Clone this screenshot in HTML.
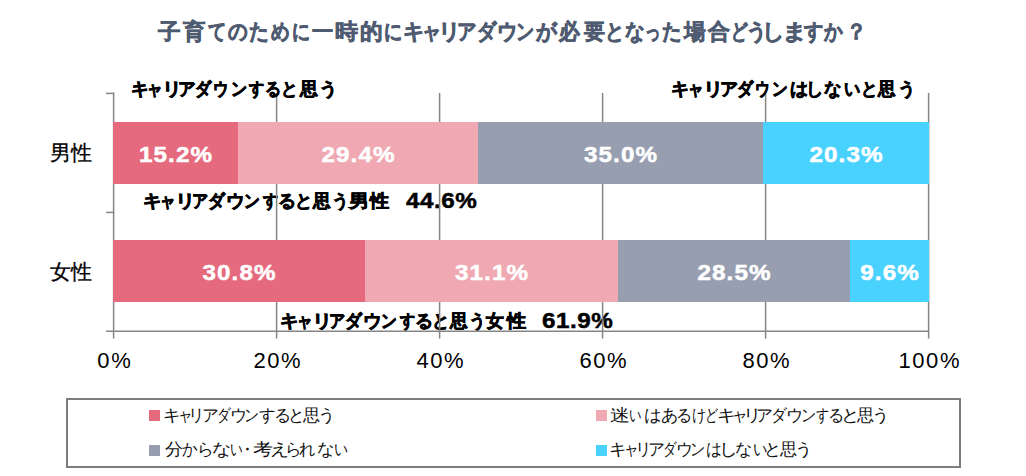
<!DOCTYPE html>
<html><head><meta charset="utf-8">
<style>
html,body{margin:0;padding:0;background:#fff;}
body{width:1026px;height:476px;position:relative;overflow:hidden;font-family:"Liberation Sans",sans-serif;color:#000;}
.a{position:absolute;white-space:nowrap;line-height:1;}
.t{position:absolute;left:0;width:0;height:0;line-height:1;}
.t span{position:absolute;top:0;white-space:nowrap;line-height:1;}
.bar{position:absolute;height:62px;}
.pct{position:absolute;white-space:nowrap;line-height:1;color:#fff;font-weight:bold;font-size:22px;text-indent:1px;letter-spacing:1px;text-align:center;transform:scaleX(1.1);-webkit-text-stroke:0.5px #fff;}
.ax{position:absolute;white-space:nowrap;line-height:1;font-size:22px;letter-spacing:1.6px;text-indent:1.6px;text-align:center;width:100px;}
.num{font-size:22px;font-weight:bold;letter-spacing:0.5px;-webkit-text-stroke:0.5px #000;transform:scaleX(1.1);transform-origin:0 0;}
.sq{position:absolute;width:11px;height:11px;}
</style></head><body>
<div class="t" style="top:21px;font-size:22px;font-weight:bold;color:#4f5b70;-webkit-text-stroke:0.6px #4f5b70;"><span style="left:158.2px;transform:scaleX(1.027);transform-origin:0px 0">子</span><span style="left:183.0px;transform:scaleX(1.018);transform-origin:0px 0">育</span><span style="left:207.9px;transform:scaleX(0.830);transform-origin:0px 0">て</span><span style="left:228.3px;transform:scaleX(0.886);transform-origin:0px 0">の</span><span style="left:249.3px;transform:scaleX(0.895);transform-origin:1px 0">た</span><span style="left:271.3px;transform:scaleX(0.843);transform-origin:0px 0">め</span><span style="left:291.8px;transform:scaleX(0.815);transform-origin:1px 0">に</span><span style="left:312.0px;transform:scaleX(0.964);transform-origin:0px 0">一</span><span style="left:335.0px;transform:scaleX(1.052);transform-origin:1px 0">時</span><span style="left:359.9px;transform:scaleX(1.030);transform-origin:1px 0">的</span><span style="left:384.0px;transform:scaleX(0.820);transform-origin:1px 0">に</span><span style="left:402.9px;transform:scaleX(0.963);transform-origin:1px 0">キ</span><span style="left:421.5px;transform:scaleX(0.876);transform-origin:2px 0">ャ</span><span style="left:437.9px;transform:scaleX(1.023);transform-origin:4px 0">リ</span><span style="left:457.3px;transform:scaleX(0.885);transform-origin:1px 0">ア</span><span style="left:476.5px;transform:scaleX(0.873);transform-origin:1px 0">ダ</span><span style="left:496.6px;transform:scaleX(0.928);transform-origin:2px 0">ウ</span><span style="left:515.8px;transform:scaleX(0.826);transform-origin:2px 0">ン</span><span style="left:536.0px;transform:scaleX(0.943);transform-origin:0px 0">が</span><span style="left:559.4px;transform:scaleX(0.942);transform-origin:-1px 0">必</span><span style="left:583.6px;transform:scaleX(0.950);transform-origin:0px 0">要</span><span style="left:604.7px;transform:scaleX(0.880);transform-origin:3px 0">と</span><span style="left:624.7px;transform:scaleX(0.890);transform-origin:0px 0">な</span><span style="left:644.3px;transform:scaleX(0.700);transform-origin:2px 0">っ</span><span style="left:662.3px;transform:scaleX(0.885);transform-origin:1px 0">た</span><span style="left:683.8px;transform:scaleX(0.983);transform-origin:-1px 0">場</span><span style="left:708.3px;transform:scaleX(1.000);transform-origin:-1px 0">合</span><span style="left:729.8px;transform:scaleX(0.755);transform-origin:3px 0">ど</span><span style="left:745.6px;transform:scaleX(0.957);transform-origin:3px 0">う</span><span style="left:762.4px;transform:scaleX(1.007);transform-origin:4px 0">し</span><span style="left:781.7px;transform:scaleX(1.133);transform-origin:3px 0">ま</span><span style="left:803.6px;transform:scaleX(0.876);transform-origin:0px 0">す</span><span style="left:823.9px;transform:scaleX(0.848);transform-origin:0px 0">か</span><span style="left:846.0px;transform:scaleX(0.942);transform-origin:5px 0">？</span></div>

<div class="a" style="left:50px;top:142px;font-size:21px;-webkit-text-stroke:0.3px #000;">男性</div>
<div class="a" style="left:50px;top:261px;font-size:21px;-webkit-text-stroke:0.3px #000;">女性</div>

<div class="t" style="top:193px;font-size:17.5px;font-weight:bold;color:#000;-webkit-text-stroke:0.7px #000;"><span style="left:143.4px;transform:scaleX(1.025);transform-origin:1px 0">キ</span><span style="left:160.3px;transform:scaleX(0.864);transform-origin:2px 0">ャ</span><span style="left:175.0px;transform:scaleX(1.127);transform-origin:3px 0">リ</span><span style="left:191.6px;transform:scaleX(0.900);transform-origin:1px 0">ア</span><span style="left:208.3px;transform:scaleX(0.933);transform-origin:1px 0">ダ</span><span style="left:226.2px;transform:scaleX(1.040);transform-origin:1px 0">ウ</span><span style="left:243.8px;transform:scaleX(0.875);transform-origin:1px 0">ン</span><span style="left:262.5px;transform:scaleX(0.842);transform-origin:-1px 0">す</span><span style="left:278.3px;transform:scaleX(1.000);transform-origin:1px 0">る</span><span style="left:294.8px;transform:scaleX(0.962);transform-origin:2px 0">と</span><span style="left:312.6px;transform:scaleX(0.975);transform-origin:-1px 0">思</span><span style="left:332.3px;transform:scaleX(0.925);transform-origin:2px 0">う</span><span style="left:349.2px;transform:scaleX(1.124);transform-origin:-1px 0">男</span><span style="left:369.9px;transform:scaleX(1.063);transform-origin:-1px 0">性</span></div>
<div class="a num" style="left:406px;top:190px;">44.6%</div>
<div class="t" style="top:313px;font-size:17.5px;font-weight:bold;color:#000;-webkit-text-stroke:0.7px #000;"><span style="left:280.4px;transform:scaleX(1.025);transform-origin:1px 0">キ</span><span style="left:297.3px;transform:scaleX(0.864);transform-origin:2px 0">ャ</span><span style="left:312.0px;transform:scaleX(1.127);transform-origin:3px 0">リ</span><span style="left:328.6px;transform:scaleX(0.900);transform-origin:1px 0">ア</span><span style="left:345.3px;transform:scaleX(0.933);transform-origin:1px 0">ダ</span><span style="left:363.2px;transform:scaleX(1.040);transform-origin:1px 0">ウ</span><span style="left:380.8px;transform:scaleX(0.875);transform-origin:1px 0">ン</span><span style="left:399.5px;transform:scaleX(0.842);transform-origin:-1px 0">す</span><span style="left:415.3px;transform:scaleX(1.000);transform-origin:1px 0">る</span><span style="left:431.8px;transform:scaleX(0.962);transform-origin:2px 0">と</span><span style="left:449.6px;transform:scaleX(0.975);transform-origin:-1px 0">思</span><span style="left:469.3px;transform:scaleX(0.925);transform-origin:2px 0">う</span><span style="left:486.3px;transform:scaleX(0.989);transform-origin:-1px 0">女</span><span style="left:506.9px;transform:scaleX(1.063);transform-origin:-1px 0">性</span></div>
<div class="a num" style="left:542px;top:310px;">61.9%</div>

<svg style="position:absolute;left:0;top:0;" width="1026" height="476">
<line x1="276.6" y1="93" x2="276.6" y2="338.5" stroke="#858585" stroke-width="1.5"/>
<line x1="439.6" y1="93" x2="439.6" y2="338.5" stroke="#858585" stroke-width="1.5"/>
<line x1="602.6" y1="93" x2="602.6" y2="338.5" stroke="#858585" stroke-width="1.5"/>
<line x1="765.6" y1="93" x2="765.6" y2="338.5" stroke="#858585" stroke-width="1.5"/>
<line x1="928.6" y1="93" x2="928.6" y2="338.5" stroke="#858585" stroke-width="1.5"/>
<line x1="113.6" y1="92.6" x2="113.6" y2="338.5" stroke="#858585" stroke-width="1.5"/>
<line x1="106" y1="93.4" x2="114.3" y2="93.4" stroke="#858585" stroke-width="1.5"/>
<line x1="106" y1="212.4" x2="114.3" y2="212.4" stroke="#858585" stroke-width="1.5"/>
<line x1="106" y1="331.2" x2="929.1" y2="331.2" stroke="#858585" stroke-width="1.5"/>
</svg>
<div class="t" style="top:81px;font-size:17.5px;font-weight:bold;color:#000;-webkit-text-stroke:0.7px #000;"><span style="left:130.7px;transform:scaleX(0.981);transform-origin:1px 0">キ</span><span style="left:147.2px;transform:scaleX(0.864);transform-origin:2px 0">ャ</span><span style="left:161.5px;transform:scaleX(1.100);transform-origin:3px 0">リ</span><span style="left:178.2px;transform:scaleX(0.981);transform-origin:1px 0">ア</span><span style="left:195.4px;transform:scaleX(0.894);transform-origin:1px 0">ダ</span><span style="left:213.4px;transform:scaleX(0.853);transform-origin:1px 0">ウ</span><span style="left:230.5px;transform:scaleX(0.894);transform-origin:1px 0">ン</span><span style="left:249.4px;transform:scaleX(0.842);transform-origin:-1px 0">す</span><span style="left:265.0px;transform:scaleX(0.894);transform-origin:1px 0">る</span><span style="left:281.2px;transform:scaleX(0.931);transform-origin:2px 0">と</span><span style="left:299.5px;transform:scaleX(0.990);transform-origin:-1px 0">思</span><span style="left:318.5px;transform:scaleX(1.033);transform-origin:2px 0">う</span></div>
<div class="t" style="top:81px;font-size:17.5px;font-weight:bold;color:#000;-webkit-text-stroke:0.7px #000;"><span style="left:671.4px;transform:scaleX(1.006);transform-origin:1px 0">キ</span><span style="left:688.3px;transform:scaleX(0.864);transform-origin:2px 0">ャ</span><span style="left:703.0px;transform:scaleX(1.127);transform-origin:3px 0">リ</span><span style="left:719.6px;transform:scaleX(1.006);transform-origin:1px 0">ア</span><span style="left:736.9px;transform:scaleX(0.894);transform-origin:1px 0">ダ</span><span style="left:754.5px;transform:scaleX(0.827);transform-origin:1px 0">ウ</span><span style="left:772.0px;transform:scaleX(0.869);transform-origin:1px 0">ン</span><span style="left:789.5px;transform:scaleX(1.000);transform-origin:0px 0">は</span><span style="left:806.4px;transform:scaleX(0.954);transform-origin:3px 0">し</span><span style="left:824.4px;transform:scaleX(0.965);transform-origin:0px 0">な</span><span style="left:843.5px;transform:scaleX(0.900);transform-origin:1px 0">い</span><span style="left:861.0px;transform:scaleX(0.923);transform-origin:2px 0">と</span><span style="left:878.4px;transform:scaleX(0.970);transform-origin:-1px 0">思</span><span style="left:897.7px;transform:scaleX(0.975);transform-origin:2px 0">う</span></div>

<div class="bar" style="left:113px;top:122px;width:125px;background:#e56a7d;"></div>
<div class="bar" style="left:238px;top:122px;width:240px;background:#f0a8b2;"></div>
<div class="bar" style="left:478px;top:122px;width:285px;background:#979eb0;"></div>
<div class="bar" style="left:763px;top:122px;width:166px;background:#4ad2ff;"></div>
<div class="bar" style="left:113px;top:240px;width:252px;background:#e56a7d;"></div>
<div class="bar" style="left:365px;top:240px;width:253px;background:#f0a8b2;"></div>
<div class="bar" style="left:618px;top:240px;width:232px;background:#979eb0;"></div>
<div class="bar" style="left:850px;top:240px;width:79px;background:#4ad2ff;"></div>

<div class="pct" style="left:113px;top:144px;width:125px;">15.2%</div>
<div class="pct" style="left:238px;top:144px;width:240px;">29.4%</div>
<div class="pct" style="left:478px;top:144px;width:285px;">35.0%</div>
<div class="pct" style="left:763px;top:144px;width:166px;">20.3%</div>
<div class="pct" style="left:113px;top:262px;width:252px;">30.8%</div>
<div class="pct" style="left:365px;top:262px;width:253px;">31.1%</div>
<div class="pct" style="left:618px;top:262px;width:232px;">28.5%</div>
<div class="pct" style="left:850px;top:262px;width:79px;">9.6%</div>

<div class="ax" style="left:64px;top:350px;">0%</div>
<div class="ax" style="left:227px;top:350px;">20%</div>
<div class="ax" style="left:390px;top:350px;">40%</div>
<div class="ax" style="left:553px;top:350px;">60%</div>
<div class="ax" style="left:716px;top:350px;">80%</div>
<div class="ax" style="left:879px;top:350px;">100%</div>

<div style="position:absolute;left:66px;top:398px;width:891px;height:66px;border:2px solid #7d7d7d;"></div>
<div class="sq" style="left:149px;top:410px;background:#e56a7d;"></div>
<div class="sq" style="left:596px;top:410px;background:#f0a8b2;"></div>
<div class="sq" style="left:149px;top:445px;background:#979eb0;"></div>
<div class="sq" style="left:596px;top:445px;background:#4ad2ff;"></div>
<div class="t" style="top:407px;font-size:16.5px;color:#111;"><span style="left:162.8px;transform:scaleX(1.038);transform-origin:2px 0">キ</span><span style="left:177.5px;transform:scaleX(0.864);transform-origin:3px 0">ャ</span><span style="left:188.2px;transform:scaleX(0.967);transform-origin:4px 0">リ</span><span style="left:201.9px;transform:scaleX(0.986);transform-origin:2px 0">ア</span><span style="left:216.5px;transform:scaleX(0.800);transform-origin:2px 0">ダ</span><span style="left:229.7px;transform:scaleX(1.008);transform-origin:2px 0">ウ</span><span style="left:244.3px;transform:scaleX(0.886);transform-origin:2px 0">ン</span><span style="left:259.2px;transform:scaleX(0.973);transform-origin:1px 0">す</span><span style="left:274.4px;transform:scaleX(1.008);transform-origin:2px 0">る</span><span style="left:287.7px;transform:scaleX(0.980);transform-origin:3px 0">と</span><span style="left:302.9px;transform:scaleX(1.006);transform-origin:0px 0">思</span><span style="left:318.2px;transform:scaleX(1.020);transform-origin:3px 0">う</span></div>
<div class="t" style="top:407px;font-size:16.5px;color:#111;"><span style="left:610.4px;transform:scaleX(1.167);transform-origin:1px 0">迷</span><span style="left:629.4px;transform:scaleX(0.733);transform-origin:1px 0">い</span><span style="left:644.0px;transform:scaleX(1.027);transform-origin:1px 0">は</span><span style="left:660.8px;transform:scaleX(1.013);transform-origin:1px 0">あ</span><span style="left:676.0px;transform:scaleX(0.954);transform-origin:2px 0">る</span><span style="left:691.5px;transform:scaleX(0.833);transform-origin:1px 0">け</span><span style="left:704.2px;transform:scaleX(0.779);transform-origin:3px 0">ど</span><span style="left:716.9px;transform:scaleX(1.123);transform-origin:2px 0">キ</span><span style="left:732.0px;transform:scaleX(0.927);transform-origin:3px 0">ャ</span><span style="left:743.0px;transform:scaleX(1.078);transform-origin:4px 0">リ</span><span style="left:756.2px;transform:scaleX(0.986);transform-origin:2px 0">ア</span><span style="left:770.8px;transform:scaleX(0.927);transform-origin:2px 0">ダ</span><span style="left:786.1px;transform:scaleX(1.015);transform-origin:2px 0">ウ</span><span style="left:800.7px;transform:scaleX(0.893);transform-origin:2px 0">ン</span><span style="left:815.5px;transform:scaleX(0.773);transform-origin:1px 0">す</span><span style="left:828.3px;transform:scaleX(0.954);transform-origin:2px 0">る</span><span style="left:841.2px;transform:scaleX(1.090);transform-origin:3px 0">と</span><span style="left:856.6px;transform:scaleX(1.006);transform-origin:0px 0">思</span><span style="left:871.9px;transform:scaleX(1.020);transform-origin:3px 0">う</span></div>
<div class="t" style="top:441px;font-size:16.5px;color:#111;"><span style="left:164.8px;transform:scaleX(1.069);transform-origin:0px 0">分</span><span style="left:182.4px;transform:scaleX(0.912);transform-origin:1px 0">か</span><span style="left:196.5px;transform:scaleX(0.975);transform-origin:3px 0">ら</span><span style="left:211.6px;transform:scaleX(1.120);transform-origin:1px 0">な</span><span style="left:230.3px;transform:scaleX(0.747);transform-origin:1px 0">い</span><span style="left:239.2px;transform:scaleX(0.967);transform-origin:7px 0">・</span><span style="left:252.5px;transform:scaleX(1.173);transform-origin:1px 0">考</span><span style="left:269.8px;transform:scaleX(1.123);transform-origin:2px 0">え</span><span style="left:284.6px;transform:scaleX(0.967);transform-origin:3px 0">ら</span><span style="left:299.4px;transform:scaleX(0.956);transform-origin:1px 0">れ</span><span style="left:316.9px;transform:scaleX(1.020);transform-origin:1px 0">な</span><span style="left:333.7px;transform:scaleX(0.827);transform-origin:1px 0">い</span></div>
<div class="t" style="top:441px;font-size:16.5px;color:#111;"><span style="left:609.1px;transform:scaleX(1.038);transform-origin:2px 0">キ</span><span style="left:623.8px;transform:scaleX(0.864);transform-origin:3px 0">ャ</span><span style="left:634.5px;transform:scaleX(0.967);transform-origin:4px 0">リ</span><span style="left:648.2px;transform:scaleX(0.986);transform-origin:2px 0">ア</span><span style="left:662.8px;transform:scaleX(0.800);transform-origin:2px 0">ダ</span><span style="left:676.0px;transform:scaleX(1.000);transform-origin:2px 0">ウ</span><span style="left:690.4px;transform:scaleX(0.893);transform-origin:2px 0">ン</span><span style="left:706.0px;transform:scaleX(0.927);transform-origin:1px 0">は</span><span style="left:719.1px;transform:scaleX(1.100);transform-origin:4px 0">し</span><span style="left:735.3px;transform:scaleX(1.013);transform-origin:1px 0">な</span><span style="left:752.5px;transform:scaleX(0.847);transform-origin:1px 0">い</span><span style="left:764.0px;transform:scaleX(1.020);transform-origin:3px 0">と</span><span style="left:780.1px;transform:scaleX(1.006);transform-origin:0px 0">思</span><span style="left:795.4px;transform:scaleX(1.020);transform-origin:3px 0">う</span></div>
</body></html>
